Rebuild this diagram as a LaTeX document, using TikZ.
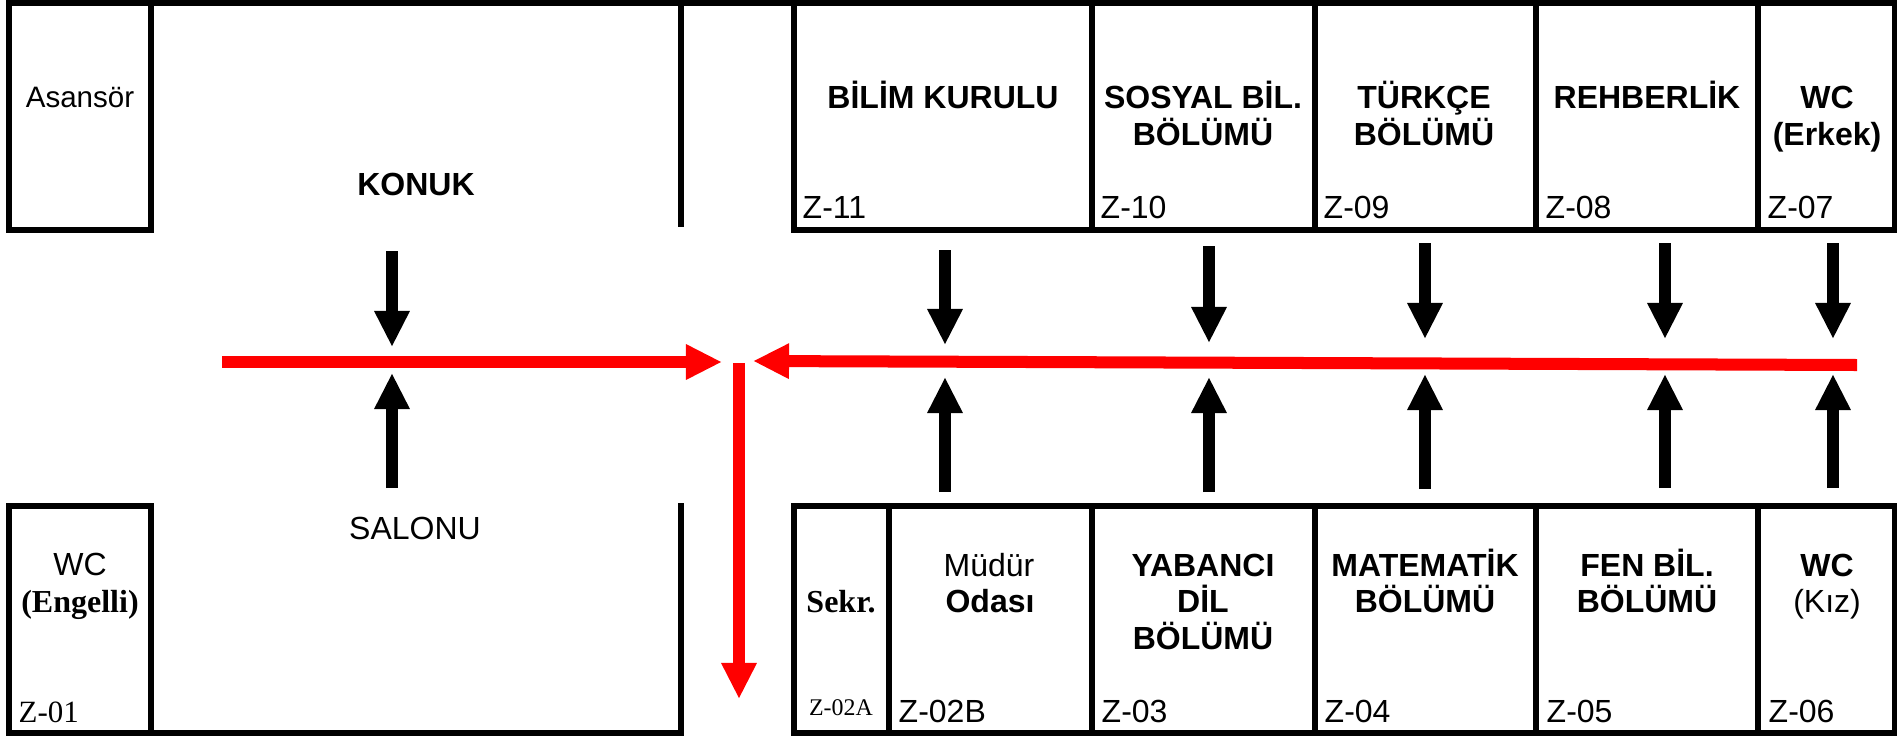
\documentclass[tikz,border=0pt]{standalone}
\usepackage{fontspec}
\setmainfont{Liberation Sans}
\newfontfamily\timesfont{Liberation Serif}
\usetikzlibrary{arrows.meta}
\tikzset{
  wall/.style={line width=.06cm,line cap=butt},
  walkarrow/.style={line width=.12cm,-{Triangle[length=.36cm,width=.33cm]}},
  exitarrow/.style={walkarrow,red},
  roomtext/.style={anchor=base,inner sep=0pt,font=\fontsize{9.1pt}{11pt}\selectfont},
  boldtext/.style={roomtext,font=\fontsize{9.1pt}{11pt}\selectfont\bfseries},
  serifbold/.style={roomtext,font=\fontsize{9.1pt}{11pt}\selectfont\timesfont\bfseries},
  roomno/.style={roomtext,anchor=base west}
}
\begin{document}
\begin{tikzpicture}[x=.01cm,y=-.01cm]
  \useasboundingbox (0,0) rectangle (1897,736);
  \draw[wall] (9,3) rectangle (151,230);
  \draw[wall] (151,3) -- (1897,3);
  \draw[wall] (681,3) -- (681,227);
  \draw[wall] (794,3) rectangle (1895,230);
  \foreach \x in {1092,1315,1536,1758} \draw[wall] (\x,3) -- (\x,230);
  \draw[wall] (9,506) rectangle (151,733);
  \draw[wall] (151,733) -- (681,733) -- (681,503);
  \draw[wall] (794,506) rectangle (1895,733);
  \foreach \x in {889,1092,1315,1536,1758} \draw[wall] (\x,506) -- (\x,733);
  \node[roomtext,font=\fontsize{8.4pt}{10pt}\selectfont] (asansor) at (80,107) {Asansör};
  \node[boldtext] (konuk) at (416,195) {KONUK};
  \node[roomtext] (salonu) at (415,539) {SALONU};
  \node[boldtext] (bilim) at (943,108) {BİLİM KURULU};
  \node[boldtext] (sosyal) at (1203,108) {SOSYAL BİL.};
  \node[boldtext] (sosyalb) at (1203,145) {BÖLÜMÜ};
  \node[boldtext] (turkce) at (1424,108) {TÜRKÇE};
  \node[boldtext] (turkceb) at (1424,145) {BÖLÜMÜ};
  \node[boldtext] (rehber) at (1647,108) {REHBERLİK};
  \node[boldtext] (erkek) at (1827,108) {WC};
  \node[boldtext] (erkekb) at (1827,145) {(Erkek)};
  \node[roomtext] (engelli) at (80,575) {WC};
  \node[serifbold] (engellib) at (80,612) {(Engelli)};
  \node[serifbold] (sekr) at (841,612) {Sekr.};
  \node[roomtext] (mudur) at (989,576) {Müdür};
  \node[boldtext] (mudurb) at (990,612) {Odası};
  \node[boldtext] (yabanci) at (1203,576) {YABANCI};
  \node[boldtext] (yabancib) at (1203,612) {DİL};
  \node[boldtext] (yabancic) at (1203,649) {BÖLÜMÜ};
  \node[boldtext] (matem) at (1425,576) {MATEMATİK};
  \node[boldtext] (matemb) at (1425,612) {BÖLÜMÜ};
  \node[boldtext] (fen) at (1647,576) {FEN BİL.};
  \node[boldtext] (fenb) at (1647,612) {BÖLÜMÜ};
  \node[boldtext] (kiz) at (1827,576) {WC};
  \node[roomtext] (kizb) at (1827,612) {(Kız)};
  \foreach \num/\x in {11/802,10/1100,09/1323,08/1545,07/1767}
    \node[roomno] (z\num) at (\x,218) {Z-\num};
  \foreach \num/\x in {02B/898,03/1101,04/1324,05/1546,06/1768}
    \node[roomno] (z\num) at (\x,722) {Z-\num};
  \node[roomno,font=\fontsize{8.8pt}{10pt}\selectfont\timesfont] (z01) at (18,722) {Z-01};
  \node[roomtext,font=\fontsize{6.8pt}{8pt}\selectfont\timesfont] (z02A) at (841,715) {Z-02A};
  \foreach \i/\x/\a/\b/\c/\d in {1/392/251/347/373/488,2/945/250/345/377/492,3/1209/246/343/377/492,
      4/1425/243/339/374/489,5/1665/243/339/374/488,6/1833/243/339/374/488}{
    \coordinate (d\i) at (\x,\a); \coordinate (p\i) at (\x,\b);
    \coordinate (q\i) at (\x,\c); \coordinate (u\i) at (\x,\d);
    \draw[walkarrow] (d\i) -- (p\i);
    \draw[walkarrow] (u\i) -- (q\i);
  }
  \coordinate (lstart) at (222,362); \coordinate (ltip) at (722,362);
  \coordinate (rstart) at (1857,365); \coordinate (rtip) at (753,361);
  \coordinate (dstart) at (739,363); \coordinate (dtip) at (739,699);
  \draw[exitarrow] (lstart) -- (ltip);
  \draw[exitarrow] (rstart) -- (rtip);
  \draw[exitarrow] (dstart) -- (dtip);
\end{tikzpicture}
\end{document}
